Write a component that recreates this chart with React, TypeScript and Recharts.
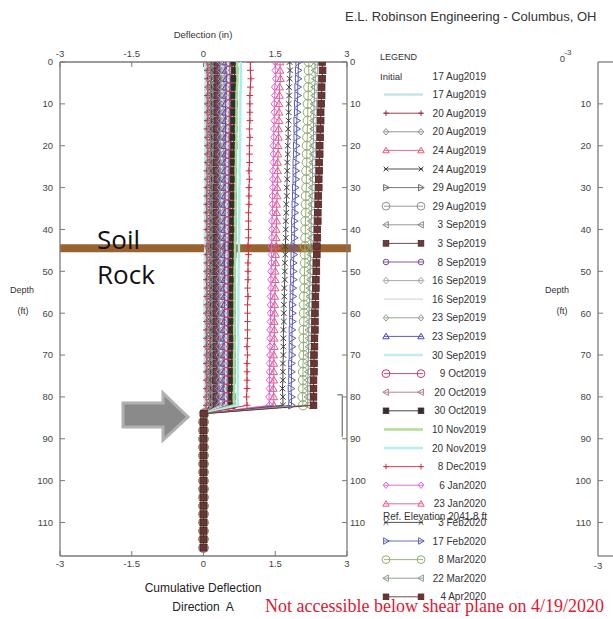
import React from 'react';
import { ScatterChart, Scatter, XAxis, YAxis, ReferenceLine } from 'recharts';

// ---------- data ----------
const depthsUpper = [0,2,4,6,8,10,12,14,16,18,20,22,24,26,28,30,32,34,36,38,40,42,44,46,48,50,52,54,56,58,60,62,64,66,68,70,72,74,76,78,80,82];
const depthsBelow = [84,86,88,90,92,94,96,98,100,102,104,106,108,110,112,114,116];
const belowShear = [0.01,0,0,0,0,0,0,0,0,0,0,0,0,0,0,0,0];
const deflTicks = [-3,-1.5,0,1.5,3];
const depthTicks = [0,10,20,30,40,50,60,70,80,90,100,110];
const rightPanelTicks = [10,20,30,40,50,60,70,80,90,100,110];

const seriesNames = ["17 Aug2019","20 Aug2019","20 Aug2019","24 Aug2019","24 Aug2019","29 Aug2019","29 Aug2019","3 Sep2019","3 Sep2019","8 Sep2019","16 Sep2019","16 Sep2019","23 Sep2019","23 Sep2019","30 Sep2019","9 Oct2019","20 Oct2019","30 Oct2019","10 Nov2019","20 Nov2019","8 Dec2019","6 Jan2020","23 Jan2020","3 Feb2020","17 Feb2020","8 Mar2020","22 Mar2020","4 Apr2020"];
const seriesColors = ["#bfe3e8","#9b2d3f","#8c8c8c","#e0607a","#404040","#6a6a6a","#909090","#8a8a8a","#6e3a3a","#7b4a8a","#a0a0a0","#d4d4d4","#8fa08f","#4848c8","#b6ecf0","#c83c64","#b07890","#303030","#a8dc8c","#a8f0f0","#d03040","#e060d8","#e05c8c","#404040","#5a5ab8","#90b070","#8a9a8a","#6e3434"];
const seriesMarkers = ["none","plus","diamond","triUp","cross","triRight","bigCircle","triLeft","square","circle","diamond","none","diamond","triUp","none","bigCircle","triLeft","square","none","none","plus","diamond","triUp","cross","triRight","bigCircle","triLeft","square"];
const seriesWidths = [2.5,1,1,1,1,1,1,1,1,1,1,1.2,1,1,2.5,1,1,1,2.5,2.5,1,1,1,1,1,1,1,1];

const s01 = [.04,.04,.05,.04,.04,.04, .04,.03,.04,.04,.04,.04, .04,.04,.03,.04,.04,.04, .03,.04,.03,.03,.04,.03, .03,.03,.03,.03,.03,.02, .03,.03,.03,.03,.03,.03, .02,.03,.03,.03,.03,.03];
const s02 = [.08,.08,.08,.09,.08,.08, .08,.08,.07,.08,.08,.08, .08,.07,.08,.07,.07,.07, .07,.07,.07,.08,.07,.07, .07,.07,.06,.07,.07,.07, .06,.07,.06,.06,.06,.07, .06,.06,.06,.06,.06,.06];
const s03 = [.10,.10,.11,.10,.10,.10, .10,.10,.10,.09,.10,.10, .09,.10,.09,.09,.09,.09, .09,.09,.09,.10,.09,.09, .09,.08,.09,.09,.08,.09, .08,.08,.09,.08,.08,.08, .08,.08,.08,.08,.07,.08];
const s04 = [.14,.14,.15,.14,.14,.14, .14,.14,.13,.14,.14,.14, .13,.13,.14,.13,.13,.13, .13,.13,.13,.13,.12,.13, .13,.12,.13,.13,.12,.12, .12,.12,.12,.13,.12,.12, .12,.12,.12,.11,.12,.12];
const s05 = [.17,.18,.17,.17,.17,.17, .17,.17,.16,.17,.17,.17, .16,.16,.17,.16,.16,.16, .16,.16,.16,.16,.15,.16, .16,.15,.16,.16,.15,.15, .15,.15,.16,.15,.15,.15, .15,.15,.14,.15,.15,.15];
const s06 = [.20,.20,.21,.20,.20,.20, .20,.20,.19,.20,.20,.20, .19,.19,.20,.19,.19,.19, .19,.19,.19,.19,.18,.19, .19,.18,.19,.19,.18,.18, .18,.18,.18,.19,.18,.18, .18,.18,.17,.18,.18,.18];
const s07 = [.23,.23,.24,.23,.23,.23, .23,.23,.22,.23,.23,.23, .22,.22,.23,.22,.22,.22, .22,.22,.22,.22,.21,.22, .22,.21,.22,.22,.21,.21, .21,.21,.21,.22,.21,.21, .21,.21,.20,.21,.21,.21];
const s08 = [.26,.27,.26,.26,.26,.26, .26,.26,.25,.26,.26,.26, .25,.25,.26,.25,.25,.25, .25,.25,.25,.25,.24,.25, .25,.24,.25,.25,.24,.24, .24,.24,.25,.24,.24,.24, .24,.24,.23,.24,.24,.24];
const s09 = [.29,.29,.30,.29,.29,.29, .29,.29,.28,.29,.29,.29, .28,.28,.29,.28,.28,.28, .28,.28,.28,.28,.27,.28, .28,.27,.28,.28,.27,.27, .27,.27,.27,.28,.27,.27, .27,.27,.26,.27,.27,.27];
const s10 = [.33,.33,.34,.33,.33,.33, .32,.33,.32,.32,.32,.32, .32,.31,.32,.32,.31,.32, .31,.31,.31,.32,.31,.31, .31,.31,.30,.31,.31,.30, .30,.31,.30,.30,.30,.30, .30,.30,.30,.29,.30,.30];
const s11 = [.36,.36,.37,.36,.36,.36, .35,.36,.35,.35,.35,.35, .35,.34,.35,.35,.34,.35, .34,.34,.34,.35,.34,.34, .34,.34,.33,.34,.34,.33, .33,.34,.33,.33,.33,.33, .33,.33,.33,.32,.33,.33];
const s12 = [.40,.40,.41,.40,.40,.40, .39,.40,.39,.39,.39,.39, .39,.38,.39,.39,.38,.39, .38,.38,.38,.39,.38,.38, .38,.38,.37,.38,.38,.37, .37,.38,.37,.37,.37,.37, .37,.37,.37,.36,.37,.37];
const s13 = [.43,.44,.43,.43,.43,.43, .42,.43,.42,.42,.42,.42, .42,.41,.42,.42,.41,.42, .41,.41,.41,.42,.41,.41, .41,.41,.40,.41,.41,.40, .40,.41,.40,.40,.40,.40, .40,.40,.40,.39,.40,.40];
const s14 = [.47,.47,.48,.47,.47,.46, .46,.46,.46,.46,.45,.46, .45,.45,.45,.45,.45,.44, .45,.44,.44,.45,.44,.44, .44,.44,.44,.43,.44,.44, .43,.44,.43,.43,.43,.43, .43,.43,.43,.42,.43,.43];
const s15 = [.52,.52,.53,.52,.52,.51, .51,.51,.51,.51,.50,.51, .50,.50,.50,.50,.50,.49, .50,.49,.49,.50,.49,.49, .49,.49,.49,.48,.49,.49, .48,.49,.48,.48,.48,.48, .48,.48,.48,.47,.48,.48];
const s16 = [.55,.55,.56,.55,.54,.55, .54,.54,.54,.53,.54,.53, .53,.53,.53,.52,.53,.52, .52,.52,.52,.52,.51,.52, .51,.51,.51,.51,.51,.50, .51,.50,.50,.51,.50,.50, .50,.50,.50,.49,.50,.50];
const s17 = [.60,.60,.61,.60,.59,.60, .59,.59,.59,.58,.59,.58, .58,.58,.58,.57,.58,.57, .57,.57,.57,.57,.56,.57, .56,.56,.56,.56,.56,.55, .56,.55,.55,.56,.55,.55, .55,.55,.55,.54,.55,.55];
const s18 = [.64,.65,.64,.64,.63,.64, .63,.63,.63,.62,.63,.62, .62,.62,.62,.61,.62,.61, .61,.61,.61,.61,.60,.61, .60,.60,.60,.60,.60,.59, .60,.59,.59,.60,.59,.59, .59,.59,.59,.58,.59,.59];
const s19 = [.70,.70,.71,.70,.69,.69, .69,.69,.68,.69,.68,.68, .68,.67,.68,.67,.67,.67, .67,.66,.67,.66,.66,.66, .66,.65,.66,.65,.65,.65, .65,.65,.64,.65,.65,.64, .64,.64,.64,.64,.63,.64];
const s20 = [.78,.78,.79,.78,.77,.77, .77,.77,.76,.77,.76,.76, .76,.75,.76,.75,.75,.75, .75,.74,.75,.74,.74,.74, .74,.73,.74,.73,.73,.73, .73,.73,.72,.73,.73,.72, .72,.72,.72,.72,.71,.72];
const s21 = [.98,.98,.99,.98,.97,.97, .97,.97,.96,.97,.96,.96, .96,.95,.96,.95,.95,.95, .94,.94,.94,.94,.93,.94, .93,.93,.93,.92,.93,.92, .92,.92,.92,.92,.91,.92, .91,.91,.91,.91,.90,.91];
const s22 = [1.50,1.50,1.51,1.49,1.49,1.48, 1.48,1.48,1.47,1.47,1.46,1.46, 1.46,1.45,1.45,1.45,1.44,1.44, 1.44,1.43,1.43,1.43,1.42,1.42, 1.42,1.41,1.41,1.41,1.40,1.40, 1.40,1.40,1.39,1.39,1.39,1.39, 1.38,1.38,1.38,1.38,1.37,1.38];
const s23 = [1.60,1.60,1.61,1.59,1.59,1.58, 1.58,1.58,1.57,1.57,1.56,1.56, 1.55,1.55,1.55,1.54,1.54,1.53, 1.53,1.53,1.52,1.52,1.52,1.51, 1.51,1.50,1.50,1.50,1.49,1.49, 1.49,1.48,1.48,1.48,1.48,1.47, 1.47,1.47,1.47,1.46,1.47,1.47];
const s24 = [1.80,1.81,1.80,1.79,1.79,1.78, 1.78,1.78,1.77,1.77,1.76,1.76, 1.75,1.75,1.75,1.74,1.74,1.73, 1.73,1.72,1.72,1.72,1.71,1.71, 1.70,1.70,1.70,1.69,1.69,1.68, 1.68,1.68,1.67,1.67,1.67,1.67, 1.66,1.66,1.66,1.65,1.66,1.66];
const s25 = [1.99,1.98,1.98,1.97,1.97,1.96, 1.96,1.95,1.95,1.95,1.94,1.94, 1.93,1.93,1.93,1.92,1.92,1.91, 1.91,1.90,1.90,1.90,1.89,1.89, 1.88,1.88,1.88,1.87,1.87,1.86, 1.86,1.86,1.85,1.85,1.85,1.85, 1.84,1.84,1.84,1.83,1.84,1.84];
const s26 = [2.20,2.20,2.21,2.19,2.19,2.18, 2.18,2.18,2.17,2.17,2.16,2.16, 2.16,2.15,2.15,2.15,2.14,2.14, 2.14,2.13,2.13,2.13,2.12,2.12, 2.12,2.11,2.11,2.11,2.10,2.10, 2.10,2.10,2.09,2.09,2.09,2.09, 2.08,2.08,2.08,2.08,2.07,2.08];
const s27 = [2.33,2.33,2.34,2.32,2.32,2.31, 2.31,2.30,2.30,2.30,2.29,2.29, 2.28,2.28,2.28,2.27,2.27,2.26, 2.26,2.25,2.25,2.25,2.24,2.24, 2.23,2.23,2.23,2.22,2.22,2.21, 2.21,2.21,2.20,2.20,2.20,2.19, 2.19,2.19,2.18,2.18,2.18,2.18];
const s28 = [2.48,2.49,2.48,2.47,2.47,2.46, 2.45,2.45,2.44,2.44,2.43,2.43, 2.42,2.42,2.41,2.41,2.40,2.40, 2.39,2.39,2.38,2.38,2.37,2.37, 2.36,2.36,2.35,2.35,2.34,2.34, 2.33,2.33,2.33,2.32,2.32,2.31, 2.31,2.31,2.30,2.30,2.30,2.30];

const upperValues = [s01,s02,s03,s04,s05,s06,s07,s08,s09,s10,s11,s12,s13,s14,s15,s16,s17,s18,s19,s20,s21,s22,s23,s24,s25,s26,s27,s28];

// ---------- build ----------
const series = seriesNames.map((name, i) => {
  const up = upperValues[i].map((v, k) => ({ x: v, y: depthsUpper[k] }));
  const lo = belowShear.map((v, k) => ({ x: v, y: depthsBelow[k] }));
  return { name, color: seriesColors[i], marker: seriesMarkers[i], width: seriesWidths[i], points: up.concat(lo) };
});

const FONT = 'Liberation Sans, Arial, sans-serif';

function Marker({ kind, cx, cy, color, s = 1 }: { kind: string; cx: number; cy: number; color: string; s?: number }) {
  if (cx == null || cy == null) return <g />;
  const r = 3.3 * s;
  switch (kind) {
    case 'plus':
      return <g stroke={color} strokeWidth={1}><line x1={cx - r} y1={cy} x2={cx + r} y2={cy} /><line x1={cx} y1={cy - r} x2={cx} y2={cy + r} /></g>;
    case 'cross':
      return <g stroke={color} strokeWidth={1}><line x1={cx - 2.8 * s} y1={cy - 2.8 * s} x2={cx + 2.8 * s} y2={cy + 2.8 * s} /><line x1={cx - 2.8 * s} y1={cy + 2.8 * s} x2={cx + 2.8 * s} y2={cy - 2.8 * s} /></g>;
    case 'circle':
      return <circle cx={cx} cy={cy} r={3.3 * s} fill="none" stroke={color} strokeWidth={1} />;
    case 'bigCircle':
      return <circle cx={cx} cy={cy} r={4.6 * s} fill="none" stroke={color} strokeWidth={1} />;
    case 'diamond':
      return <path d={`M${cx},${cy - 3.8 * s}L${cx + 3.3 * s},${cy}L${cx},${cy + 3.8 * s}L${cx - 3.3 * s},${cy}Z`} fill="none" stroke={color} strokeWidth={1} />;
    case 'triUp':
      return <path d={`M${cx},${cy - 3.8 * s}L${cx + 3.8 * s},${cy + 2.8 * s}L${cx - 3.8 * s},${cy + 2.8 * s}Z`} fill="none" stroke={color} strokeWidth={1} />;
    case 'triRight':
      return <path d={`M${cx + 3.8 * s},${cy}L${cx - 2.8 * s},${cy - 3.8 * s}L${cx - 2.8 * s},${cy + 3.8 * s}Z`} fill="none" stroke={color} strokeWidth={1} />;
    case 'triLeft':
      return <path d={`M${cx - 3.8 * s},${cy}L${cx + 2.8 * s},${cy - 3.8 * s}L${cx + 2.8 * s},${cy + 3.8 * s}Z`} fill="none" stroke={color} strokeWidth={1} />;
    case 'square':
      return <rect x={cx - 3.3 * s} y={cy - 3.3 * s} width={6.6 * s} height={6.6 * s} fill={color} stroke="#4a2a2a" strokeWidth={0.8} />;
    default:
      return <g />;
  }
}

const axisLine = { stroke: '#7a7a7a', strokeWidth: 1.3 };
const tickLine = { stroke: '#7a7a7a', strokeWidth: 1 };
const tickStyle = { fontSize: 9.5, fill: '#444', fontFamily: FONT };

function LegendBox() {
  const rowY = (i: number) => 76 + 18.6 * i;
  return (
    <g fontFamily={FONT} fontSize={10} fill="#333">
      <text x={380} y={60} fontSize={9}>LEGEND</text>
      <text x={380} y={rowY(0) + 3.5} fontSize={9.5}>Initial</text>
      <text x={486} y={rowY(0) + 3.5} textAnchor="end">17 Aug2019</text>
      {series.map((s, i) => {
        const y = rowY(i + 1);
        return (
          <g key={i}>
            <line x1={384} y1={y} x2={423} y2={y} stroke={s.color} strokeWidth={s.width} opacity={0.9} />
            <Marker kind={s.marker} cx={386} cy={y} color={s.color} s={0.85} />
            <Marker kind={s.marker} cx={421} cy={y} color={s.color} s={0.85} />
            <text x={486} y={y + 3.5} textAnchor="end">{s.name}</text>
          </g>
        );
      })}
      <text x={383} y={520} fontSize={10} fill="#333">Ref. Elevation 2041.8 ft</text>
    </g>
  );
}

export default function App() {
  return (
    <div style={{ position: 'absolute', left: 0, top: 0, width: 613, height: 619, overflow: 'hidden', background: '#fff' }}>
      <div style={{ position: 'absolute', left: 0, top: 0 }}>
        <ScatterChart width={613} height={619} margin={{ top: 42, right: 236, bottom: 43, left: 30 }}>
          <XAxis xAxisId="bottom" type="number" dataKey="x" domain={[-3, 3]} ticks={deflTicks} interval={0} allowDataOverflow
            orientation="bottom" height={20} axisLine={axisLine} tickLine={tickLine} tick={tickStyle} tickSize={-5} tickMargin={9} />
          <XAxis xAxisId="top" type="number" dataKey="x" domain={[-3, 3]} ticks={deflTicks} interval={0} allowDataOverflow
            orientation="top" height={20} axisLine={axisLine} tickLine={tickLine} tick={tickStyle} tickSize={-5} tickMargin={10} />
          <YAxis yAxisId="left" type="number" dataKey="y" domain={[0, 118]} reversed ticks={depthTicks} interval={0} allowDataOverflow
            orientation="left" width={30} axisLine={axisLine} tickLine={tickLine} tick={tickStyle} tickSize={-5} tickMargin={12} />
          <YAxis yAxisId="right" type="number" dataKey="y" domain={[0, 118]} reversed ticks={depthTicks} interval={0} allowDataOverflow
            orientation="right" width={30} axisLine={axisLine} tickLine={tickLine} tick={tickStyle} tickSize={-5} tickMargin={8} />
          {series.map((s, i) => (
            <Scatter key={i} name={s.name} data={s.points} xAxisId="bottom" yAxisId="left" isAnimationActive={false}
              line={{ stroke: s.color, strokeWidth: s.width }} lineType="joint" fill={s.color}
              shape={(p: any) => <Marker kind={s.marker} cx={p.cx} cy={p.cy} color={s.color} />} />
          ))}
          <ReferenceLine xAxisId="bottom" yAxisId="left" segment={[{ x: 2.9, y: 79.5 }, { x: 2.9, y: 89.5 }]} stroke="#555" strokeWidth={1} ifOverflow="visible" />
          <ReferenceLine xAxisId="bottom" yAxisId="left" segment={[{ x: 2.8, y: 79.5 }, { x: 2.9, y: 79.5 }]} stroke="#555" strokeWidth={1} ifOverflow="visible" />
          <ReferenceLine xAxisId="bottom" yAxisId="left" segment={[{ x: -3, y: 44.5 }, { x: 3.08, y: 44.5 }]} stroke="#99632f" strokeWidth={8} ifOverflow="visible" />
        </ScatterChart>
      </div>
      <div style={{ position: 'absolute', left: 540, top: 0 }}>
        <ScatterChart width={73} height={619} margin={{ top: 42, right: 0, bottom: 43, left: 0 }}>
          <XAxis xAxisId="b" type="number" dataKey="x" domain={[-3, 3]} ticks={[-3]} interval={0} allowDataOverflow
            orientation="bottom" height={20} axisLine={axisLine} tickLine={false} tick={false} />
          <XAxis xAxisId="t" type="number" dataKey="x" domain={[-3, 3]} ticks={[-3]} allowDataOverflow
            orientation="top" height={20} axisLine={axisLine} tickLine={false} tick={false} />
          <YAxis yAxisId="l" type="number" dataKey="y" domain={[0, 118]} reversed ticks={rightPanelTicks} interval={0} allowDataOverflow
            orientation="left" width={58} axisLine={axisLine} tickLine={tickLine} tick={tickStyle} tickSize={-5} tickMargin={12} />
          <Scatter data={[]} xAxisId="b" yAxisId="l" isAnimationActive={false} />
        </ScatterChart>
      </div>
      <svg width={613} height={619} style={{ position: 'absolute', left: 0, top: 0, pointerEvents: 'none' }}>
        <text x={345} y={21} fontFamily={FONT} fontSize={13} fill="#333">E.L. Robinson Engineering - Columbus, OH</text>
        <text x={203} y={38} fontFamily={FONT} fontSize={9.5} fill="#333" textAnchor="middle">Deflection (in)</text>
        <text x={22} y={293} fontFamily={FONT} fontSize={9} fill="#333" textAnchor="middle">Depth</text>
        <text x={23} y={314} fontFamily={FONT} fontSize={9} fill="#333" textAnchor="middle">(ft)</text>
        <text x={203} y={592} fontFamily={FONT} fontSize={12} fill="#222" textAnchor="middle">Cumulative Deflection</text>
        <text x={203} y={611} fontFamily={FONT} fontSize={12} fill="#222" textAnchor="middle" xmlSpace="preserve">Direction  A</text>
        <text x={265} y={612} fontFamily="Liberation Serif, Times New Roman, serif" fontSize={18} fill="#e3162f">Not accessible below shear plane on 4/19/2020</text>
        <LegendBox />
        <text x={97} y={249} fontFamily="Open Sans, sans-serif" fontSize={26} fill="#111">Soil</text>
        <text x={97} y={284} fontFamily="Open Sans, sans-serif" fontSize={26} fill="#111">Rock</text>
        <polygon points="123,403 163,403 163,393 188,417 163,440 163,427 123,427" fill="#8a8a8a" stroke="#b0b0b0" strokeWidth={3} strokeLinejoin="miter" />
        <text x={565} y={62} fontFamily={FONT} fontSize={9.5} fill="#444" textAnchor="end">0</text>
        <text x={568} y={55} fontFamily={FONT} fontSize={8} fill="#444" textAnchor="middle">-3</text>
        <text x={598} y={569} fontFamily={FONT} fontSize={9.5} fill="#444" textAnchor="middle">-3</text>
        <text x={557} y={293} fontFamily={FONT} fontSize={9} fill="#333" textAnchor="middle">Depth</text>
        <text x={562} y={314} fontFamily={FONT} fontSize={9} fill="#333" textAnchor="middle">(ft)</text>
      </svg>
    </div>
  );
}
